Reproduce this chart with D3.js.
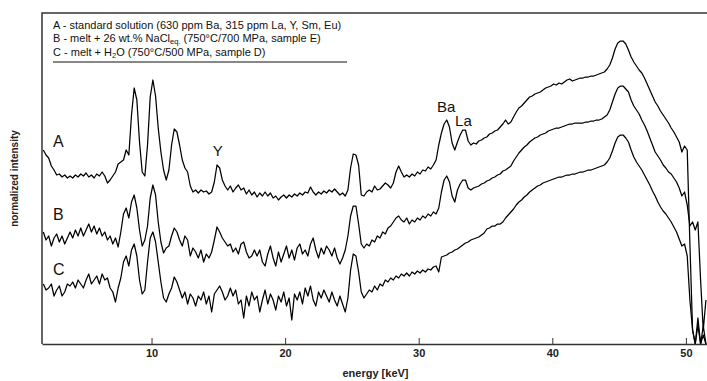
<!DOCTYPE html>
<html><head><meta charset="utf-8">
<script src="https://cdn.jsdelivr.net/npm/d3@7"></script>
<style>
html,body{margin:0;padding:0;background:#fff;}
svg{display:block;font-family:"Liberation Sans",Arial,Helvetica,sans-serif;}
</style></head><body>
<svg id="chart" width="707" height="381"></svg>
<script>
// ---------------- data ----------------
// detector channels: first channel energy and channel width (keV)
const channelStart = 1.9;
const channelStep = 0.2;

const seriesNames = ["A", "B", "C"];

// A - standard solution (normalized intensity, arbitrary units incl. display offset)
const spectrumA = [].concat(
  [194,189,186,178,174,169,170,167,169,166],
  [168,166,169,167,170,168,171,167,169,166],
  [170,168,172,168,161,164,168,172,180,182],
  [184,194,189,229,256,244,202,172,168,199],
  [247,264,248,216,192,174,164,174,199,215],
  [212,199,184,176,172,158,152,154,151,154],
  [152,153,150,152,162,179,176,164,158,154],
  [158,152,156,159,154,156,150,154,149,152],
  [147,151,148,152,148,151,146,148,144,147],
  [149,146,149,147,150,148,151,149,152,151],
  [157,152,149,152,150,153,151,154,152,155],
  [152,149,151,148,154,176,190,189,179,149],
  [148,152,154,152,158,154,155,158,161,159],
  [156,161,172,178,172,167,169,167,170,168],
  [172,170,174,173,177,175,179,184,199,211],
  [220,224,217,201,194,202,209,214,214,203],
  [199,201,200,203,204,206,207,210,211,213],
  [214,217,220,224,220,222,227,232,236,238],
  [241,244,247,248,250,251,252,254,256,257],
  [258,260,259,261,260,262,264,265,263,264],
  [265,266,266,267,267,268,268,269,270,271],
  [272,275,279,286,295,301,303,303,300,294],
  [287,282,278,274,271,266,260,254,248,242],
  [238,233,229,225,221,216,212,207,202,192],
  [198,194,100,14,0,19,0,9,0]
);

// B - melt + 26 wt.% NaCl eq.
const spectrumB = [].concat(
  [112,104,108,98,106,110,102,108,100,106],
  [112,106,114,108,116,108,114,120,112,118],
  [110,116,108,112,104,108,100,106,97,112],
  [130,136,126,142,149,136,114,98,104,118],
  [146,159,149,122,102,91,96,98,108,116],
  [112,104,98,108,104,88,96,92,86,94],
  [82,90,86,92,104,117,112,106,102,98],
  [100,92,96,90,100,102,92,86,88,94],
  [88,94,82,78,90,98,86,78,92,82],
  [90,98,86,94,84,96,100,90,94,88],
  [100,106,94,86,96,90,98,94,88,96],
  [86,80,86,94,108,128,138,138,120,100],
  [96,100,98,104,102,108,106,112,110,116],
  [118,122,126,128,124,122,126,120,124,122],
  [126,124,128,126,130,128,132,130,136,152],
  [164,168,162,148,142,154,160,164,164,156],
  [154,156,157,158,160,161,163,164,166,167],
  [169,170,173,174,176,178,183,187,191,194],
  [197,199,202,204,206,207,209,210,211,213],
  [214,215,216,216,217,218,219,220,220,221],
  [221,221,221,222,222,223,223,224,224,225],
  [227,229,234,242,250,256,258,258,255,252],
  [244,238,234,230,224,219,213,206,199,192],
  [188,184,179,176,172,170,166,162,156,148],
  [152,139,118,122,114,122,64,14,44]
);

// C - melt + H2O
const spectrumC = [].concat(
  [60,54,56,60,48,54,58,48,52,60],
  [58,62,56,64,60,56,64,70,60,64],
  [68,60,70,64,66,56,52,42,56,66],
  [82,88,78,94,100,88,64,50,54,82],
  [106,112,102,82,62,46,42,50,56,67],
  [62,54,46,52,40,50,46,38,48,44],
  [52,40,48,32,50,54,58,52,44,48],
  [56,48,54,40,44,26,48,38,52,44],
  [48,32,44,54,40,50,44,34,48,42],
  [52,38,46,24,50,44,52,40,56,48],
  [58,44,38,52,46,54,48,42,52,44],
  [38,48,40,32,46,74,90,88,72,52],
  [46,50,54,52,58,54,60,58,64,62],
  [66,64,68,66,70,68,71,68,72,70],
  [73,71,74,72,75,74,77,78,72,87],
  [88,89,91,92,94,95,97,99,101,102],
  [104,105,106,107,109,111,115,116,118,118],
  [120,120,122,126,129,132,135,139,142,144],
  [147,149,152,154,156,158,159,161,162,163],
  [164,165,166,167,167,168,169,169,170,170],
  [171,172,172,173,174,174,175,176,177,178],
  [179,182,186,193,201,207,209,209,206,202],
  [194,187,182,178,174,169,164,159,153,148],
  [142,137,133,130,126,122,117,112,105,98],
  [100,88,44,14,0,26,0,18,0]
);

const xTickValues = [10, 20, 30, 40, 50];
const xDomain = [1.8, 51.58];
const yDomain = [0, 331];

const legendLines = [
  [["A - standard solution (630 ppm Ba, 315 ppm La, Y, Sm, Eu)", false]],
  [["B - melt + 26 wt.% NaCl", false], ["eq.", true], [" (750°C/700 MPa, sample E)", false]],
  [["C - melt + H", false], ["2", true], ["O (750°C/500 MPa, sample D)", false]]
];
const peakNames = ["Y", "Ba", "La"];
const xTitle = "energy [keV]";
const yTitle = "normalized intensity";

// ---------------- drawing ----------------
const svg = d3.select("#chart");
const pL = 42, pR = 707, pT = 13, pB = 344;

const x = d3.scaleLinear().domain(xDomain).range([pL, pR]);
const y = d3.scaleLinear().domain(yDomain).range([pB, pT]);

svg.append("defs").append("clipPath").attr("id", "plotclip")
  .append("rect").attr("x", pL).attr("y", pT).attr("width", pR - pL).attr("height", pB - pT);

const spectra = [spectrumA, spectrumB, spectrumC];
const line = d3.line()
  .x((d, i) => x(channelStart + channelStep * i))
  .y(d => y(d));

svg.append("g").attr("clip-path", "url(#plotclip)")
  .selectAll("path").data(spectra).join("path")
  .attr("d", d => line(d))
  .attr("fill", "none")
  .attr("stroke", "#000")
  .attr("stroke-width", 1.25)
  .attr("stroke-linejoin", "round");

// frame (left + top)
svg.append("path")
  .attr("d", `M${pR},${pT}H${pL}V${pB}`)
  .attr("fill", "none").attr("stroke", "#333").attr("stroke-width", 1.5);

// x axis
const xAxis = d3.axisBottom(x).tickValues(xTickValues).tickSizeInner(-6).tickSizeOuter(0).tickPadding(5);
const gx = svg.append("g").attr("transform", `translate(0,${pB})`).call(xAxis);
gx.select(".domain").attr("stroke", "#333").attr("stroke-width", 1.5);
gx.selectAll(".tick line").attr("stroke", "#333").attr("stroke-width", 1);
gx.selectAll(".tick text")
  .attr("font-family", "'Liberation Sans',Arial,sans-serif")
  .attr("font-size", 11).attr("font-weight", "bold").attr("fill", "#222");

svg.append("text")
  .attr("x", (pL + pR) / 2 + 1).attr("y", 377)
  .attr("text-anchor", "middle").attr("font-size", 11).attr("font-weight", "bold").attr("fill", "#222")
  .text(xTitle);

svg.append("text")
  .attr("transform", `translate(18,${(pT + pB) / 2}) rotate(-90)`)
  .attr("text-anchor", "middle").attr("font-size", 10).attr("font-weight", "bold").attr("fill", "#222")
  .text(yTitle);

// legend
const legend = svg.append("g");
const legendBaselines = [29, 42, 56];
legendLines.forEach((parts, li) => {
  const t = legend.append("text").attr("x", 53).attr("y", legendBaselines[li])
    .attr("font-size", 11).attr("fill", "#111");
  parts.forEach(([txt, sub], pi) => {
    const ts = t.append("tspan").text(txt);
    if (sub) ts.attr("font-size", 7.5).attr("dy", 2);
    else if (pi > 0 && parts[pi - 1][1]) ts.attr("dy", -2);
  });
});
legend.append("line").attr("x1", 53).attr("x2", 347).attr("y1", 62).attr("y2", 62)
  .attr("stroke", "#111").attr("stroke-width", 1.2);

// series labels
const seriesLabelValues = [197, 124, 69];
svg.append("g").selectAll("text").data(seriesNames).join("text")
  .attr("x", x(2.63)).attr("y", (d, i) => y(seriesLabelValues[i]))
  .attr("font-size", 16).attr("fill", "#111")
  .text(d => d);

// peak labels
const peakLabelPos = [[14.95, 188, "middle"], [31.37, 232, "start"], [32.72, 218, "start"]];
svg.append("g").selectAll("text").data(peakNames).join("text")
  .attr("x", (d, i) => x(peakLabelPos[i][0]))
  .attr("y", (d, i) => y(peakLabelPos[i][1]))
  .attr("text-anchor", (d, i) => peakLabelPos[i][2])
  .attr("font-size", 15).attr("fill", "#111")
  .text(d => d);
</script>
</body></html>
